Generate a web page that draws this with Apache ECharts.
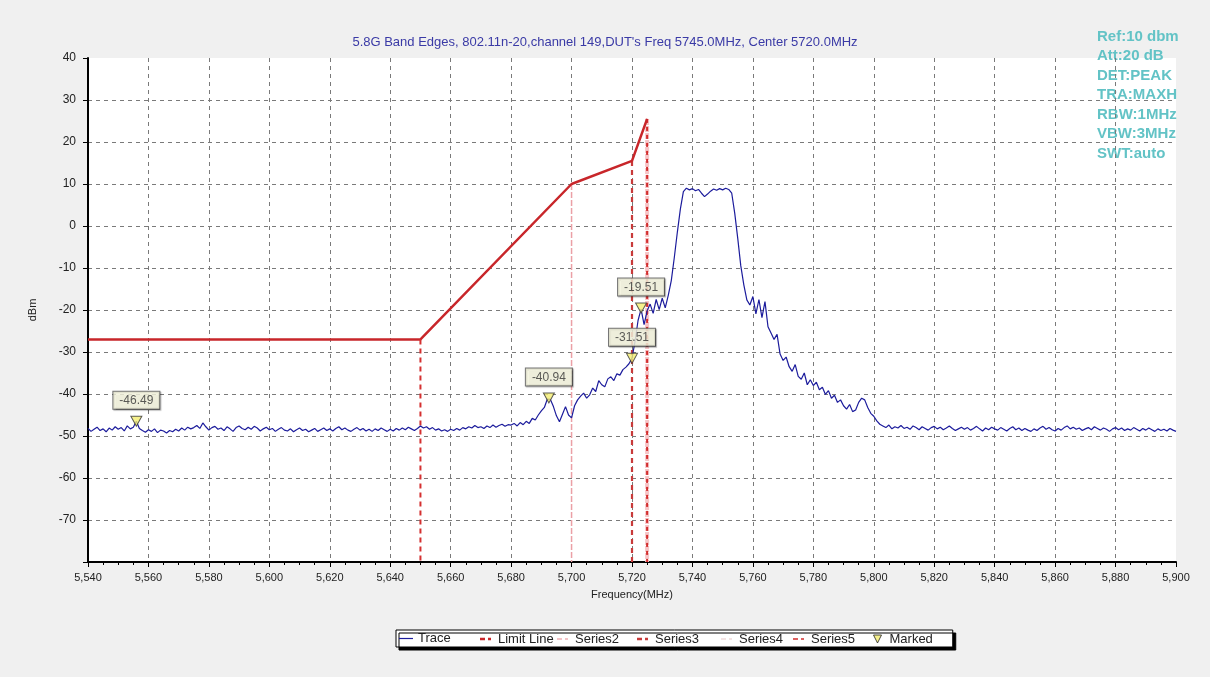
<!DOCTYPE html>
<html>
<head>
<meta charset="utf-8">
<script src="https://cdn.jsdelivr.net/npm/echarts@6/dist/echarts.min.js"></script>
<style>
html,body{margin:0;padding:0;background:#f0f0f0;}
#c{width:1210px;height:677px;}
</style>
</head>
<body>
<div id="c"></div>
<script>
// ---- data ----
var titleText = "5.8G Band Edges, 802.11n-20,channel 149,DUT's Freq 5745.0MHz, Center 5720.0MHz";
var infoLines = ["Ref:10 dbm", "Att:20 dB", "DET:PEAK", "TRA:MAXH", "RBW:1MHz", "VBW:3MHz", "SWT:auto"];
var legendNames = ['Trace', 'Limit Line', 'Series2', 'Series3', 'Series4', 'Series5', 'Marked'];
var traceStart = 5540;   // MHz, first trace sample
var traceStep = 1;       // MHz between samples
var traceDbm = [
 -48.2,-48.9,-48.4,-47.9,-48.7,-48.3,-49.0,-48.1,-48.6,-47.8,
 -48.4,-48.0,-48.8,-47.6,-48.3,-47.9,-46.5,-48.2,-48.7,-49.1,
 -48.5,-48.9,-48.3,-49.2,-48.6,-48.8,-49.3,-48.7,-49.0,-48.4,
 -48.8,-48.1,-48.6,-47.9,-48.3,-48.0,-47.5,-48.2,-46.9,-47.8,
 -48.6,-48.0,-47.7,-48.4,-48.1,-48.7,-47.8,-48.3,-48.9,-48.0,
 -47.6,-48.2,-48.5,-47.9,-48.4,-47.7,-48.1,-48.8,-48.3,-47.9,
 -48.5,-48.2,-48.9,-48.4,-48.0,-48.6,-48.8,-48.3,-49.0,-48.5,
 -48.1,-48.7,-48.4,-49.0,-48.6,-48.2,-48.9,-48.5,-48.1,-48.7,
 -48.3,-48.8,-48.2,-47.8,-48.5,-48.1,-48.6,-48.9,-48.4,-48.0,
 -48.6,-48.2,-48.8,-48.4,-48.9,-48.3,-48.7,-48.1,-48.5,-48.9,
 -48.4,-48.8,-48.2,-48.6,-48.1,-48.5,-47.9,-48.3,-48.7,-48.2,
 -47.6,-48.1,-47.8,-48.4,-48.0,-48.6,-48.3,-48.8,-48.5,-48.9,
 -48.4,-48.7,-48.2,-48.6,-48.0,-48.3,-47.8,-48.1,-47.5,-48.0,
 -47.8,-48.2,-47.6,-48.0,-47.4,-47.9,-47.5,-47.2,-47.7,-47.3,
 -47.4,-47.0,-47.6,-46.8,-47.3,-46.5,-47.0,-45.8,-46.2,-45.0,
 -44.0,-43.2,-41.2,-41.3,-43.0,-45.2,-46.6,-44.8,-43.0,-45.0,
 -45.7,-42.8,-41.4,-40.5,-39.8,-41.0,-40.2,-38.6,-39.4,-36.8,
 -37.8,-38.3,-36.4,-35.9,-36.8,-35.2,-35.5,-34.2,-33.6,-32.8,
 -31.5,-27.5,-22.5,-19.8,-23.5,-20.2,-18.6,-20.8,-17.5,-19.9,
 -17.2,-19.5,-16.5,-13.0,-7.5,-1.5,4.0,8.2,9.0,8.6,
 8.9,8.4,8.7,7.8,7.0,7.6,8.3,8.8,8.5,8.9,
 8.6,9.0,8.7,7.8,3.0,-3.0,-9.5,-14.0,-17.6,-18.8,
 -16.8,-20.9,-17.5,-21.8,-18.0,-24.0,-25.5,-27.0,-25.8,-30.5,
 -32.0,-31.2,-33.5,-34.6,-33.0,-35.8,-36.5,-35.0,-37.8,-36.6,
 -38.0,-37.2,-39.0,-38.4,-40.1,-39.2,-41.0,-40.3,-42.0,-41.4,
 -42.8,-43.6,-42.5,-44.2,-43.8,-42.0,-41.0,-41.4,-43.2,-44.6,
 -45.3,-46.4,-47.2,-47.6,-48.0,-47.4,-48.3,-47.8,-48.1,-47.5,
 -48.2,-47.9,-48.4,-47.6,-48.0,-48.5,-47.8,-48.2,-48.6,-48.0,
 -47.7,-48.3,-47.9,-48.5,-48.1,-47.6,-48.2,-48.7,-48.3,-47.9,
 -48.4,-48.0,-48.6,-48.2,-47.7,-48.3,-48.8,-48.1,-48.5,-47.9,
 -48.3,-48.6,-48.0,-48.4,-48.8,-48.2,-47.8,-48.5,-48.1,-48.7,
 -48.2,-48.6,-48.9,-48.3,-48.7,-48.1,-47.7,-48.4,-48.0,-48.5,
 -48.8,-48.2,-48.6,-48.0,-47.6,-48.3,-47.9,-48.4,-48.1,-48.7,
 -48.3,-48.0,-48.5,-47.8,-48.2,-48.6,-48.1,-48.4,-48.9,-48.3,
 -48.0,-48.5,-48.1,-48.7,-48.3,-48.6,-48.0,-48.4,-48.8,-48.2,
 -48.6,-48.1,-48.5,-48.9,-48.3,-48.7,-48.4,-48.8,-48.2,-48.6,-48.9
];
var limitFreq = [5540, 5650, 5700, 5720, 5725];
var limitDbm  = [-27, -27, 10, 15.5, 25.5];
var floorDbm = -80;
var vLineLimit   = [5650, -27];
var vLineSeries2 = [5700, 10];
var vLineSeries3 = [5720, 15.5];
var vLineSeries4 = [5725, 25.5];
var vLineSeries5 = [5725, 25.5];
var markerFreq = [5556, 5692.5, 5720, 5723];
var markerDbm  = [-46.49, -40.94, -31.51, -19.51];
var xMin = 5540, xMax = 5900, xInterval = 20;
var yMin = -80, yMax = 40, yInterval = 10;

// ---- build ----
var traceData = traceDbm.map(function (v, i) { return [traceStart + i * traceStep, v]; });
var limitData = limitFreq.map(function (f, i) { return [f, limitDbm[i]]; });
function vline(p) { return [[p[0], p[1]], [p[0], floorDbm]]; }
var markerData = markerFreq.map(function (f, i) { return [f, markerDbm[i]]; });
var triPath = 'path://M0,0 L10,0 L5,9 Z';
// legend icons (14x10 box, marks in the middle)
var iconSolid = 'path://M0,0 M14,10 M0,4.4 L14,4.4 L14,5.6 L0,5.6 Z';
var iconDashThick = 'path://M0,0 M14,10 M1,3.8 L6,3.8 L6,6.2 L1,6.2 Z M9,3.8 L12,3.8 L12,6.2 L9,6.2 Z';
var iconDash = 'path://M0,0 M14,10 M1,4.2 L6,4.2 L6,5.8 L1,5.8 Z M9,4.2 L12,4.2 L12,5.8 L9,5.8 Z';
var iconTri = 'path://M0,0 M14,10 M3,1 L11,1 L7,9 Z';
var legendIcons = [iconSolid, iconDashThick, iconDash, iconDashThick, iconDash, iconDash, iconTri];
var legendColors = ['#1c1c9c', '#c8262a', '#efb0b5', '#c83a3a', '#f0dada', '#d22c2c', '#f4ee70'];
var legendLefts = [396, 479, 556, 636, 720, 792, 870];

var ff = '"Liberation Sans", Arial, sans-serif';
var chart = echarts.init(document.getElementById('c'), null, { renderer: 'canvas' });

var graphics = infoLines.map(function (t, i) {
  return {
    type: 'text', left: 1097, top: 29 + i * 19.5, silent: true,
    style: { text: t, fill: '#63c3c6', font: 'bold 15px "Liberation Sans", Arial, sans-serif' }
  };
});

var legends = legendNames.map(function (n, i) {
  var lg = {
    left: legendLefts[i], top: 631, padding: 0, z: 20,
    itemWidth: 14, itemHeight: 10,
    textStyle: { fontSize: 13, color: '#222', fontFamily: ff, lineHeight: 16 },
    data: [{
      name: n, icon: legendIcons[i],
      itemStyle: i === 6 ? { color: legendColors[i], borderColor: '#222', borderWidth: 1 }
                         : { color: legendColors[i], borderWidth: 0 }
    }]
  };
  if (i === 0) {
    // first legend carries the white framed box behind all items
    lg.top = 630; lg.z = 10;
    lg.padding = [0.5, 502, 0.5, 3];
    lg.backgroundColor = '#ffffff';
    lg.borderColor = '#000'; lg.borderWidth = 1;
    lg.shadowColor = '#000'; lg.shadowOffsetX = 3; lg.shadowOffsetY = 3; lg.shadowBlur = 0;
  }
  return lg;
});

chart.setOption({
  animation: false,
  backgroundColor: '#f0f0f0',
  textStyle: { fontFamily: ff },
  title: {
    text: titleText, left: 'center', top: 31,
    textStyle: { fontSize: 13, fontWeight: 'normal', color: '#3a3aa6', fontFamily: ff }
  },
  graphic: { elements: graphics },
  grid: { left: 88, right: 34, top: 58, bottom: 115, show: true, backgroundColor: '#ffffff', borderWidth: 0 },
  legend: legends,
  xAxis: {
    type: 'value', min: xMin, max: xMax, interval: xInterval,
    name: 'Frequency(MHz)', nameLocation: 'middle', nameGap: 27,
    nameTextStyle: { fontSize: 11, color: '#222' },
    axisLine: { show: true, onZero: false, lineStyle: { color: '#000', width: 2 } },
    axisTick: { show: true, length: 5, lineStyle: { color: '#000' } },
    minorTick: { show: true, splitNumber: 4, length: 3, lineStyle: { color: '#000' } },
    axisLabel: {
      fontSize: 11, color: '#222', margin: 10,
      formatter: function (v) { return String(v).replace(/\B(?=(\d{3})+(?!\d))/g, ','); }
    },
    splitLine: { show: true, showMinLine: false, showMaxLine: false, lineStyle: { color: '#7a7a7a', type: [4, 4], width: 1 } }
  },
  yAxis: {
    type: 'value', min: yMin, max: yMax, interval: yInterval,
    name: 'dBm', nameLocation: 'middle', nameGap: 50, nameRotate: 90,
    nameTextStyle: { fontSize: 11, color: '#222' },
    axisLine: { show: true, onZero: false, lineStyle: { color: '#000', width: 2 } },
    axisTick: { show: true, length: 5, lineStyle: { color: '#000' } },
    axisLabel: {
      fontSize: 12, color: '#222', margin: 12,
      formatter: function (v) { return v === yMin ? '' : String(v); }
    },
    splitLine: { show: true, showMinLine: false, showMaxLine: false, lineStyle: { color: '#7a7a7a', type: [4, 4], width: 1 } }
  },
  series: [
    {
      name: 'Trace', type: 'line', data: traceData, showSymbol: false, symbol: 'none', z: 5,
      lineStyle: { color: '#1c1c9c', width: 1.2 }, itemStyle: { color: '#1c1c9c' }
    },
    {
      name: 'Limit Line', type: 'line', data: limitData, showSymbol: false, symbol: 'none', z: 4,
      lineStyle: { color: '#c8262a', width: 2.5 }, itemStyle: { color: '#c8262a' }
    },
    {
      name: 'Limit Line', type: 'line', data: vline(vLineLimit), showSymbol: false, symbol: 'none', z: 4,
      lineStyle: { color: '#d43030', width: 2, type: [5, 4] }, itemStyle: { color: '#d43030' }
    },
    {
      name: 'Series2', type: 'line', data: vline(vLineSeries2), showSymbol: false, symbol: 'none', z: 3,
      lineStyle: { color: '#eba0a6', width: 1.5, type: [6, 2] }, itemStyle: { color: '#eba0a6' }
    },
    {
      name: 'Series3', type: 'line', data: vline(vLineSeries3), showSymbol: false, symbol: 'none', z: 3,
      lineStyle: { color: '#c83a3a', width: 2.2, type: [5, 4] }, itemStyle: { color: '#c83a3a' }
    },
    {
      name: 'Series4', type: 'line', data: vline(vLineSeries4), showSymbol: false, symbol: 'none', z: 2,
      lineStyle: { color: '#f6c4c7', width: 4, type: [6, 1] }, itemStyle: { color: '#f6c4c7' }
    },
    {
      name: 'Series5', type: 'line', data: vline(vLineSeries5), showSymbol: false, symbol: 'none', z: 3,
      lineStyle: { color: '#d22c2c', width: 2, type: [4, 4] }, itemStyle: { color: '#d22c2c' }
    },
    {
      name: 'Marked', type: 'scatter', data: markerData, symbol: triPath, symbolSize: [11, 10], z: 10,
      itemStyle: { color: '#f4ee70', borderColor: '#333', borderWidth: 1 },
      label: {
        show: true, position: 'top', distance: 7,
        formatter: function (p) { return p.value[1].toFixed(2); },
        fontSize: 12, color: '#333', backgroundColor: '#fbfbe4',
        borderColor: '#555', borderWidth: 1, padding: [3, 6, 2, 6],
        shadowColor: 'rgba(0,0,0,0.35)', shadowOffsetX: 1, shadowOffsetY: 1, shadowBlur: 1
      }
    }
  ]
});
</script>
</body>
</html>
